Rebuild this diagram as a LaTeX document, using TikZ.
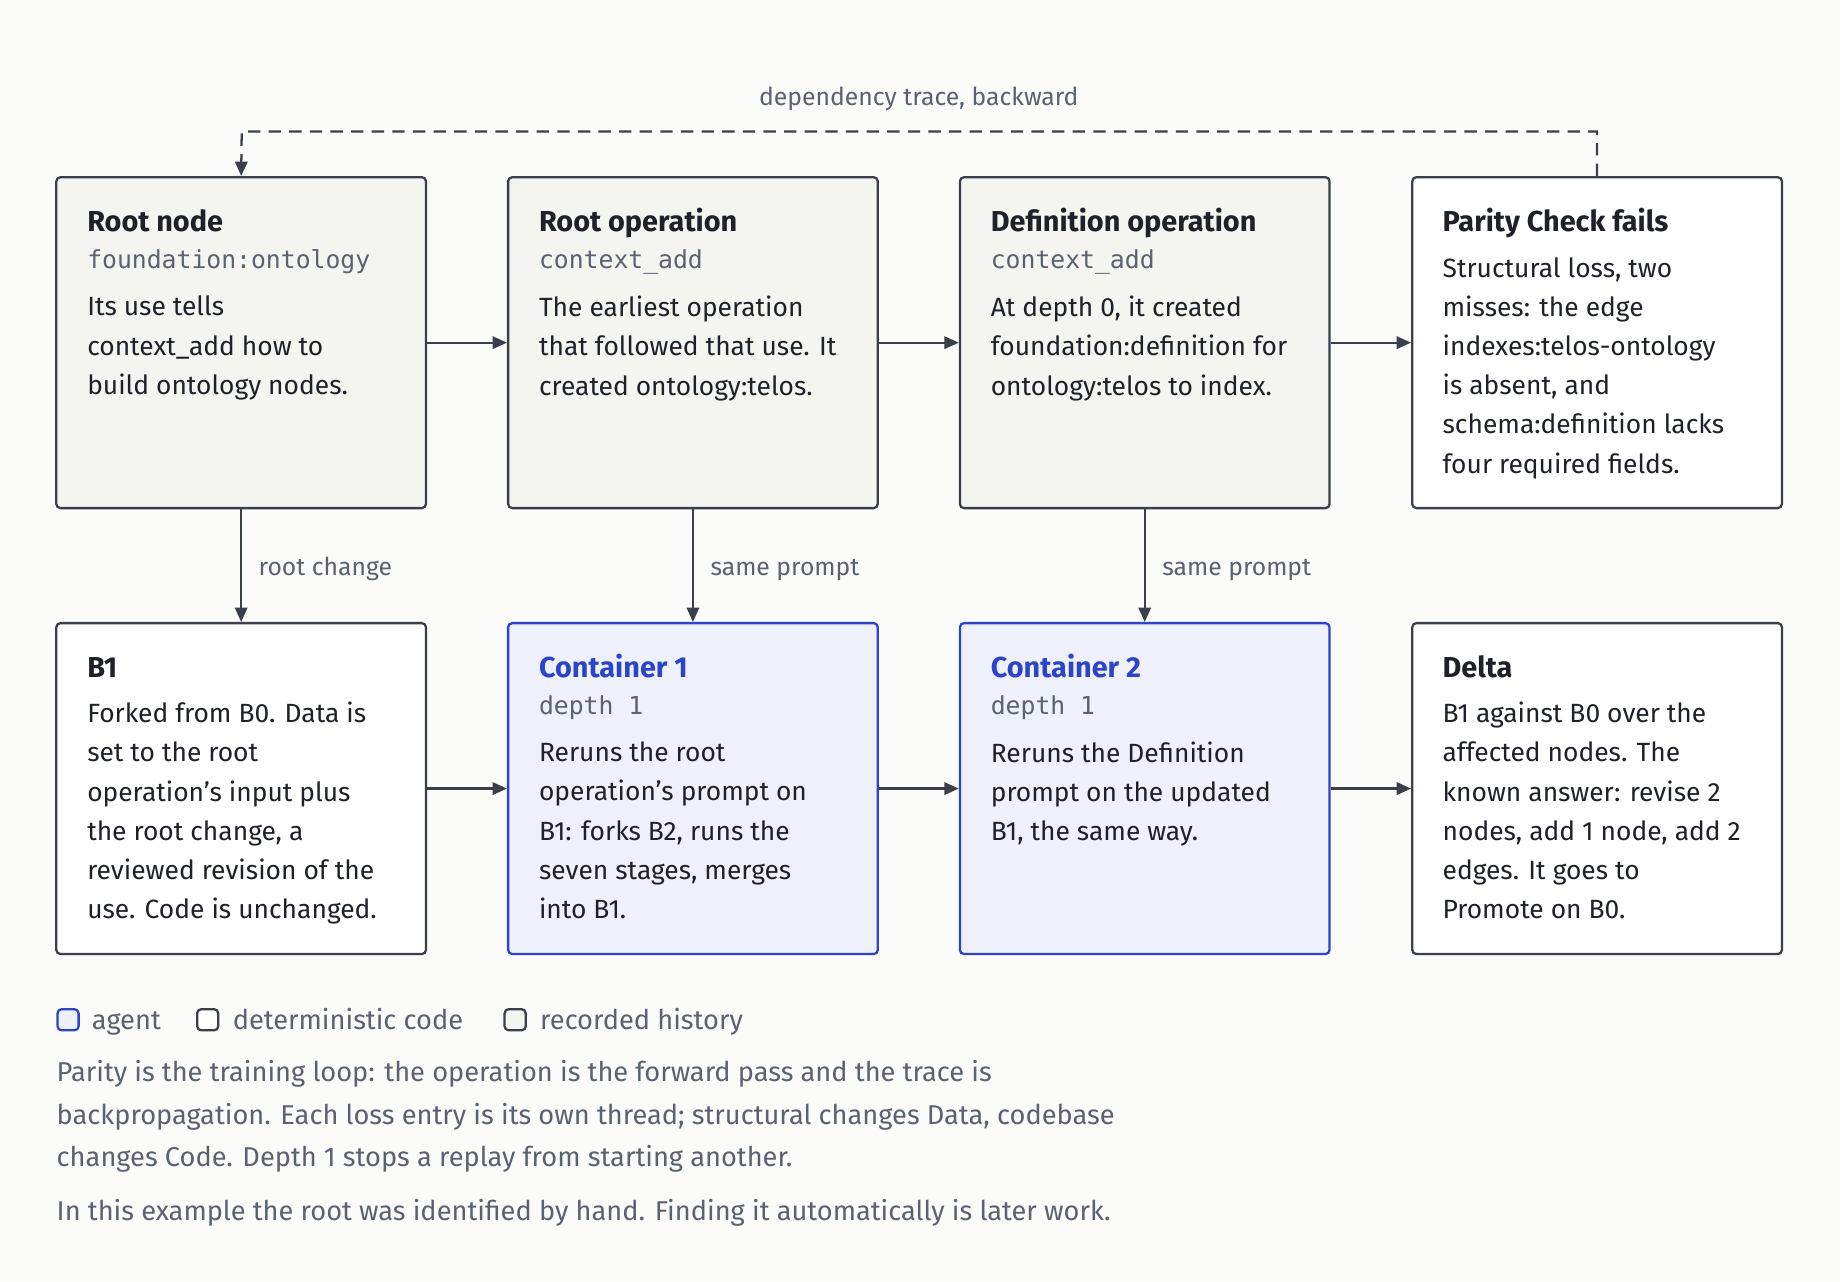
\documentclass[tikz,border=0pt]{standalone}
\usepackage{fontspec}
\setmainfont{Fira Sans}
\setmonofont{DejaVu Sans Mono}
\usetikzlibrary{arrows.meta}
\definecolor{bg}{HTML}{FBFBFA}
\definecolor{edge}{HTML}{3A3F4A}
\definecolor{hist}{HTML}{F4F4F1}
\definecolor{agfill}{HTML}{EEF0FB}
\definecolor{agline}{HTML}{2C45C8}
\definecolor{lab}{HTML}{5A6270}
\definecolor{txt}{HTML}{1E2128}
\newcommand{\ap}{{\char"0027}}
\begin{document}
\begin{tikzpicture}[x=0.02cm,y=-0.02cm,
  box/.style={draw=edge,line width=1.1pt,rounded corners=2pt,minimum width=315*0.02cm,minimum height=282*0.02cm},
  hbox/.style={box,fill=hist},
  cbox/.style={box,fill=white},
  abox/.style={box,draw=agline,fill=agfill},
  tt/.style={anchor=base west,inner sep=0,font=\fontsize{14}{17}\selectfont\bfseries,text=txt},
  mono/.style={anchor=base west,inner sep=0,font=\fontsize{12}{15}\ttfamily\selectfont,text=lab},
  body/.style={anchor=north west,inner sep=0,align=left,font=\fontsize{12.8}{19}\selectfont,text=txt},
  arr/.style={draw=edge,line width=1.1pt,-{Triangle[length=7pt,width=6pt]}},
  elab/.style={anchor=base west,inner sep=0,font=\fontsize{12}{15}\selectfont,text=lab},
  para/.style={anchor=base west,inner sep=0,font=\fontsize{13.2}{16}\selectfont,text=lab},
  key/.style={line width=1.1pt,rounded corners=2pt,minimum size=18*0.02cm,inner sep=0}]
\fill[bg] (0,0) rectangle (1568,1092);
\useasboundingbox (0,0) rectangle (1568,1092);
\node[hbox] (n1) at (205.5,292) {};
\node[hbox] (n2) at (590.5,292) {};
\node[hbox] (n3) at (975.5,292) {};
\node[cbox] (n4) at (1361,292) {};
\node[cbox] (m1) at (205.5,672) {};
\node[abox] (m2) at (590.5,672) {};
\node[abox] (m3) at (975.5,672) {};
\node[cbox] (m4) at (1361,672) {};
% texts
\node[tt] (t1) at (74,197) {Root node};
\node[mono] (s1) at (74,229) {foundation:ontology};
\node[body] (b1) at (74,252) {Its use tells\\context\_add how to\\build ontology nodes.};
\node[tt] (t2) at (459,197) {Root operation};
\node[mono] (s2) at (459,229) {context\_add};
\node[body] (b2) at (459,252) {The earliest operation\\that followed that use. It\\created ontology:telos.};
\node[tt] (t3) at (844,197) {Definition operation};
\node[mono] (s3) at (844,229) {context\_add};
\node[body] (b3) at (844,252) {At depth 0, it created\\foundation:definition for\\ontology:telos to index.};
\node[tt] (t4) at (1229,197) {Parity Check fails};
\node[body] (b4) at (1229,219) {Structural loss, two\\misses: the edge\\indexes:telos-ontology\\is absent, and\\schema:definition lacks\\four required fields.};
\node[tt] (t5) at (74,577) {B1};
\node[body] (b5) at (74,598) {Forked from B0. Data is\\set to the root\\operation\ap s input plus\\the root change, a\\reviewed revision of the\\use. Code is unchanged.};
\node[tt,text=agline] (t6) at (459,577) {Container 1};
\node[mono] (s6) at (459,609) {depth 1};
\node[body] (b6) at (459,632) {Reruns the root\\operation\ap s prompt on\\B1: forks B2, runs the\\seven stages, merges\\into B1.};
\node[tt,text=agline] (t7) at (844,577) {Container 2};
\node[mono] (s7) at (844,609) {depth 1};
\node[body] (b7) at (844,632) {Reruns the Definition\\prompt on the updated\\B1, the same way.};
\node[tt] (t8) at (1229,577) {Delta};
\node[body] (b8) at (1229,598) {B1 against B0 over the\\affected nodes. The\\known answer: revise 2\\nodes, add 1 node, add 2\\edges. It goes to\\Promote on B0.};
% arrows
\draw[arr] (n1.east) -- (n2.west);
\draw[arr] (n2.east) -- (n3.west);
\draw[arr] (n3.east) -- (n4.west);
\draw[arr] (m1.east) -- (m2.west);
\draw[arr] (m2.east) -- (m3.west);
\draw[arr] (m3.east) -- (m4.west);
\draw[arr] (n1.south) -- node[elab,pos=0.5,xshift=14*0.02cm,yshift=-8*0.02cm]{root change} (m1.north);
\draw[arr] (n2.south) -- node[elab,pos=0.5,xshift=14*0.02cm,yshift=-8*0.02cm]{same prompt} (m2.north);
\draw[arr] (n3.south) -- node[elab,pos=0.5,xshift=14*0.02cm,yshift=-8*0.02cm]{same prompt} (m3.north);
\coordinate (d1) at (1361,112);
\coordinate (d2) at (206,112);
\draw[arr,dash pattern=on 6pt off 4pt] (n4.north) -- (d1) -- (d2) -- (n1.north);
\node[elab,anchor=base] (dl) at (783,90) {dependency trace, backward};
% legend
\node[key,draw=agline,fill=agfill] (k1) at (58,869) {};
\node[para] (k1t) at (78,877) {agent};
\node[key,draw=edge,fill=white] (k2) at (177,869) {};
\node[para] (k2t) at (198,877) {deterministic code};
\node[key,draw=edge,fill=hist] (k3) at (439,869) {};
\node[para] (k3t) at (460,877) {recorded history};
\node[para] (p1) at (48,922) {Parity is the training loop: the operation is the forward pass and the trace is};
\node[para] (p2) at (48,958) {backpropagation. Each loss entry is its own thread; structural changes Data, codebase};
\node[para] (p3) at (48,994) {changes Code. Depth 1 stops a replay from starting another.};
\node[para] (p4) at (48,1040) {In this example the root was identified by hand. Finding it automatically is later work.};
\end{tikzpicture}
\end{document}
